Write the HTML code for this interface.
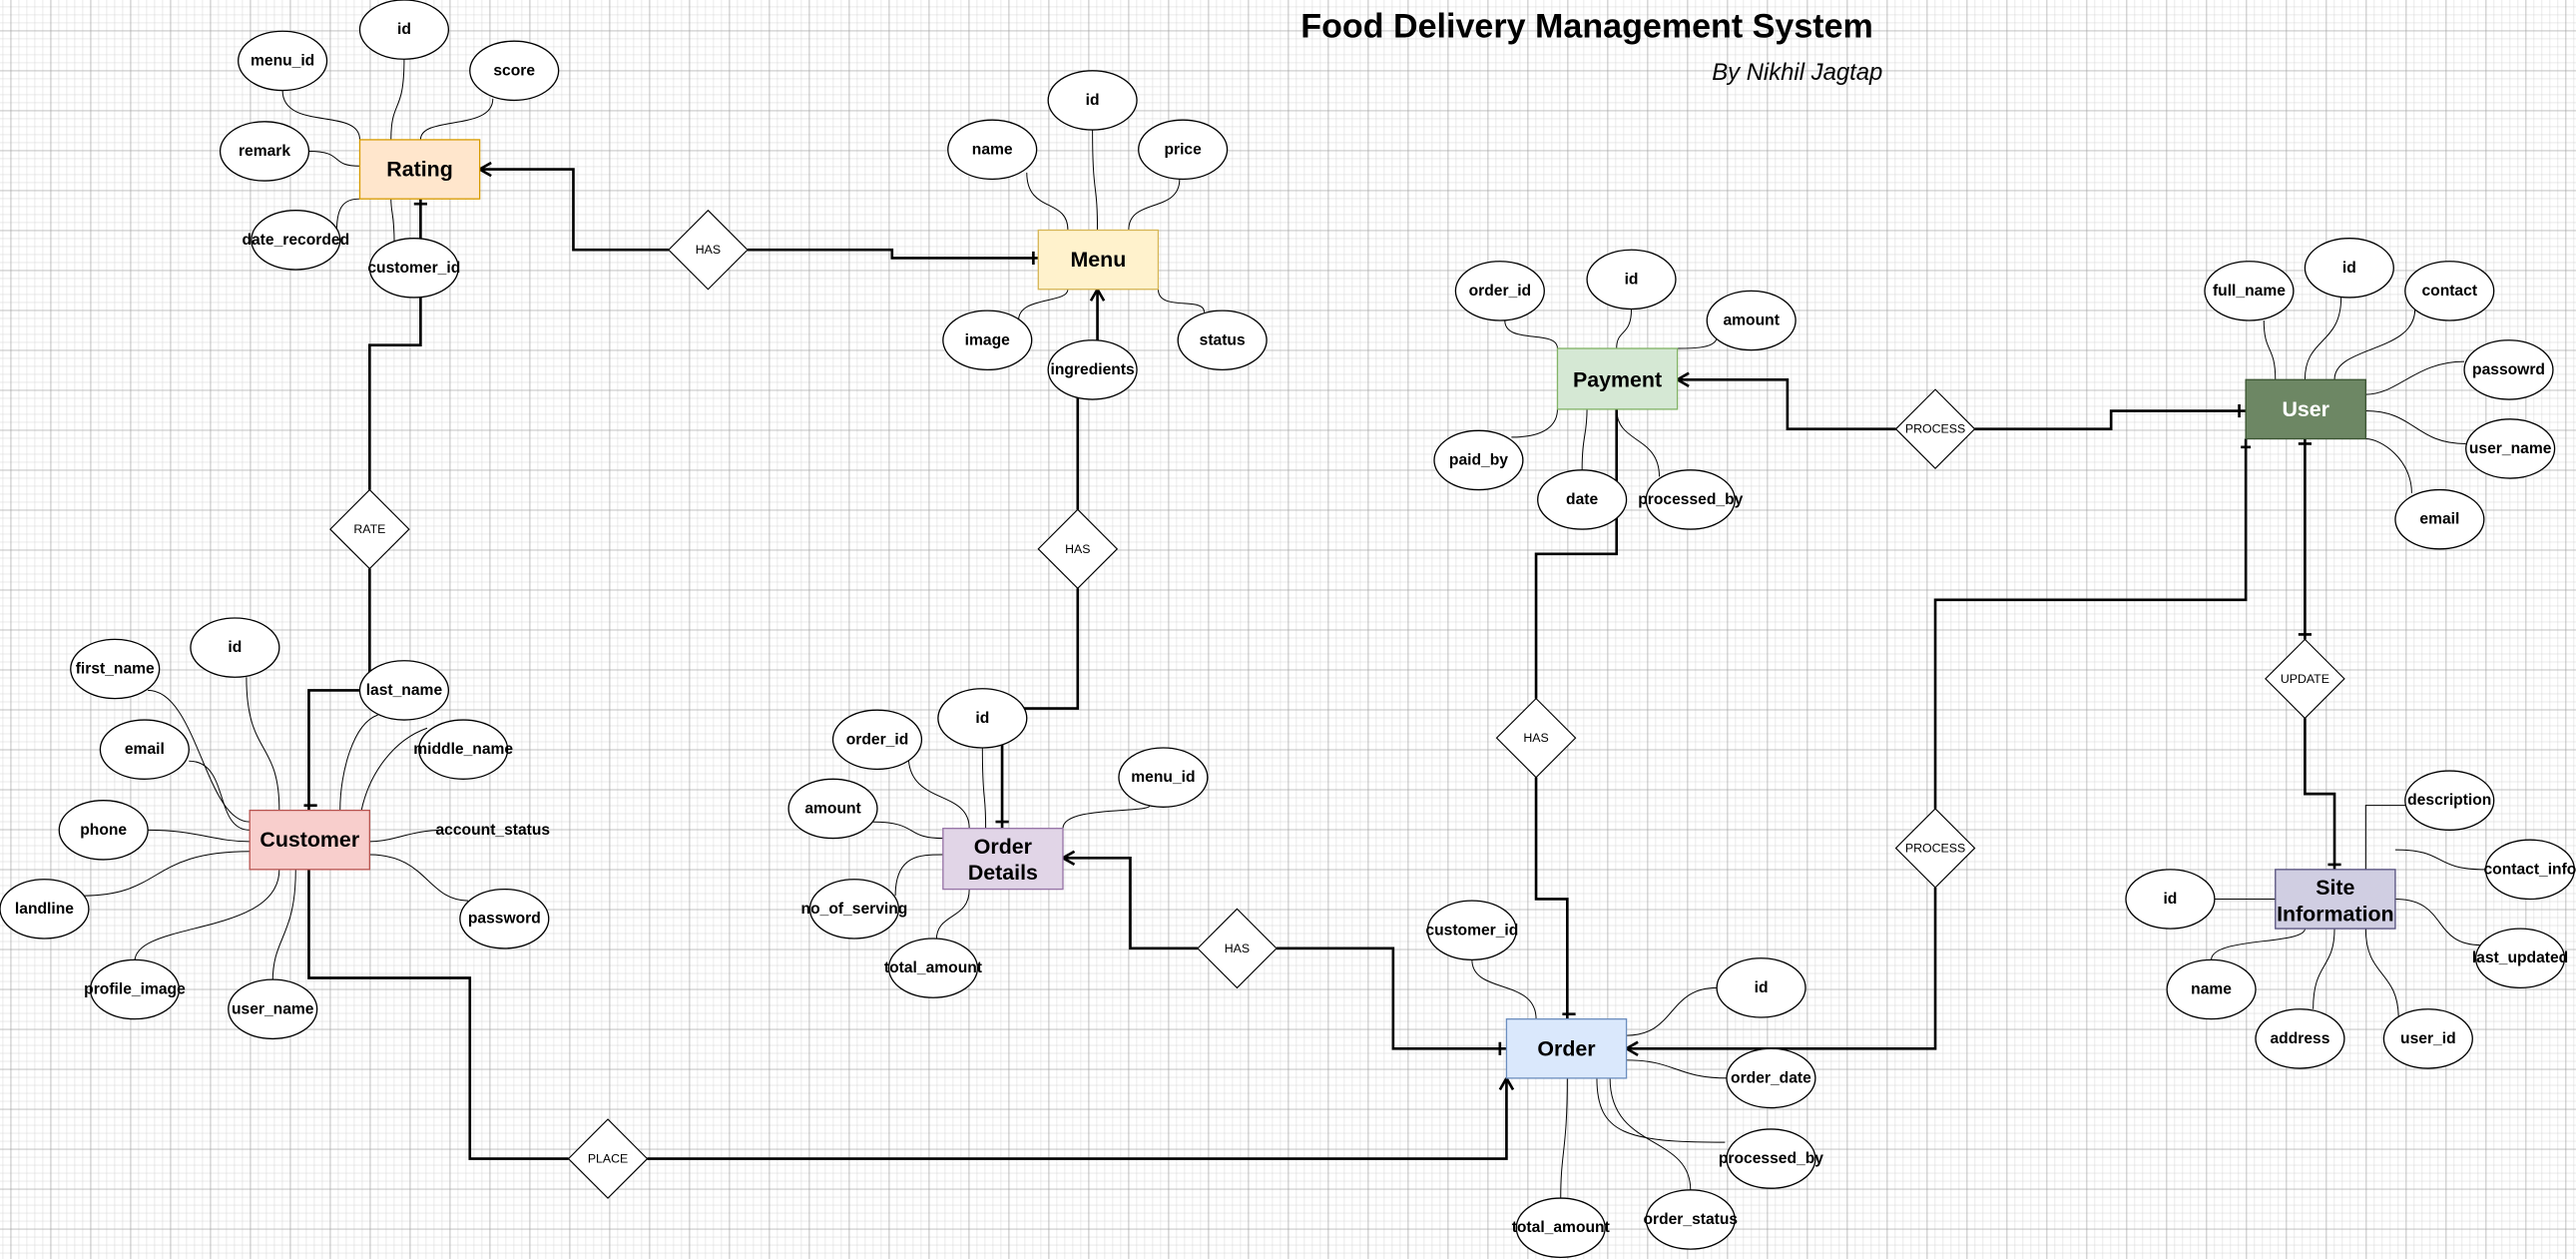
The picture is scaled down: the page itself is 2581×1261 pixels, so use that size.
<!DOCTYPE html>
<html><head><meta charset="utf-8"><style>
html,body{margin:0;padding:0;background:#fff;}
svg{display:block;}
text{font-family:"Liberation Sans",Arial,sans-serif;}
.a{fill:#fff;stroke:#000;stroke-width:0.8;}
.al{font-size:9.5px;font-weight:bold;text-anchor:middle;dominant-baseline:central;}
.t{fill:none;stroke:#000;stroke-width:0.6;}
.k{fill:none;stroke:#000;stroke-width:1.6;}
.d{fill:#fff;stroke:#000;stroke-width:0.7;}
.dl{font-size:7.5px;text-anchor:middle;dominant-baseline:central;}
.el{font-size:13px;font-weight:bold;text-anchor:middle;dominant-baseline:central;}
</style></head><body>
<svg width="2581" height="1261" viewBox="0 0 1568 766" preserveAspectRatio="none" xmlns="http://www.w3.org/2000/svg">
<defs>
<pattern id="mn" x="6.5" y="18.65" width="4.86" height="4.86" patternUnits="userSpaceOnUse">
<path d="M0 0H4.86M0 0V4.86" stroke="#d2d2d2" stroke-width="0.55" fill="none"/></pattern>
<pattern id="mj" x="6.5" y="18.65" width="24.3" height="24.3" patternUnits="userSpaceOnUse">
<path d="M0 0H24.3M0 0V24.3" stroke="#9a9a9a" stroke-width="0.65" fill="none"/></pattern>
</defs>
<rect width="1568" height="766" fill="#fff"/>
<rect width="1568" height="766" fill="url(#mn)"/>
<rect width="1568" height="766" fill="url(#mj)"/>

<text x="966" y="16" font-size="20.7" font-weight="bold" text-anchor="middle" dominant-baseline="central">Food Delivery Management System</text>
<text x="1094" y="44" font-size="14.5" font-style="italic" text-anchor="middle" dominant-baseline="central">By  Nikhil Jagtap</text>

<path class="k" d="M292 103H349V152H407M455 152H543V157H632"/>
<path class="k" d="M256 121V210H225V298M225 346V420H188V493"/>
<path class="k" d="M668 176V207M656 240V310M656 358V431H610V504"/>
<path class="k" d="M647 522H688V577H729M777 577H848V638H917"/>
<path class="k" d="M188 529V595H286V705H346M394 705H917V656"/>
<path class="k" d="M1021 231H1088V261H1154M1202 261H1285V250H1367"/>
<path class="k" d="M984 249V337H935V425M935 473V547H954V620"/>
<path class="k" d="M990 638H1178V540M1178 492V365H1367V267"/>
<path class="k" d="M1403 267V389M1403 437V483H1421V529"/>
<path class="k" d="M292 103l7 -4M292 103l7 4M632 157m-3 -4v8M668 176l-4 7M668 176l4 7M252 124h8M185 490h8M606 500h8M647 522l7 -4M647 522l7 4M917 638m-4 -4v8M917 656l-4 7M917 656l4 7M1021 231l7 -4M1021 231l7 4M1367 250m-4 -4v8M1364 272h6M1399 270h8M1399 386h8M1417 526h8M990 638l7 -4M990 638l7 4M951 617h8"/>

<g class="t">
<path d="M246 36C246 70 238 60 238 85"/><path d="M172 55C172 80 219 65 219 85"/><path d="M300 60C300 80 256 70 256 85"/><path d="M188 92C210 92 200 101 219 101"/><path d="M205 140C205 125 210 121 219 121"/><path d="M240 148C240 130 238 130 238 121"/>
<path d="M665 79C665 120 668 110 668 140"/><path d="M625 105C625 130 650 120 650 140"/><path d="M718 109C718 130 687 120 687 140"/><path d="M620 195C620 180 650 185 650 176"/><path d="M705 176C705 190 733 180 733 190"/>
<path d="M916 195C916 210 948 200 948 212"/><path d="M993 188C993 205 984 200 984 212"/><path d="M1045 205C1045 212 1030 212 1021 212"/><path d="M920 266C945 266 948 255 948 249"/><path d="M963 286C963 265 966 265 966 249"/><path d="M1010 290C1010 265 984 270 984 249"/>
<path d="M1378 195C1378 215 1385 210 1385 231"/><path d="M1425 181C1425 210 1403 205 1403 231"/><path d="M1470 188C1470 215 1421 210 1421 231"/><path d="M1500 220C1470 220 1460 240 1440 240"/><path d="M1501 270C1470 270 1470 250 1440 250"/><path d="M1468 300C1468 280 1450 267 1440 267"/>
<path d="M90 420C120 420 125 500 152 500"/><path d="M150 412C150 460 170 450 170 493"/><path d="M115 463C140 463 130 505 152 505"/><path d="M230 435C215 440 207 470 207 493"/><path d="M260 443C240 450 225 470 220 493"/><path d="M90 505C120 505 130 512 152 512"/><path d="M270 505C250 505 240 512 225 512"/><path d="M50 545C100 545 90 518 152 518"/><path d="M285 548C260 548 260 520 225 520"/><path d="M82 585C82 560 170 570 170 529"/><path d="M166 597C166 570 180 570 180 529"/>
<path d="M553 460C553 490 590 480 590 504"/><path d="M598 455C598 490 600 480 600 504"/><path d="M700 490C700 495 647 490 647 504"/><path d="M530 500C560 500 550 510 574 510"/><path d="M545 545C545 520 560 520 574 520"/><path d="M570 572C570 555 590 560 590 541"/>
<path d="M896 584C896 605 935 595 935 620"/><path d="M1045 601C1015 601 1020 630 990 630"/><path d="M1052 656C1020 656 1020 645 990 645"/><path d="M1050 695C990 695 972 690 972 656"/><path d="M1029 724C1029 690 980 700 980 656"/><path d="M950 729C950 700 954 700 954 656"/>
<path d="M1348 547H1385"/><path d="M1465 490H1440V529"/><path d="M1513 529C1480 529 1490 517 1458 517"/><path d="M1510 575C1480 575 1490 547 1458 547"/><path d="M1346 584C1346 570 1403 575 1403 565"/><path d="M1408 614C1408 585 1421 590 1421 565"/><path d="M1460 620C1460 590 1440 595 1440 565"/>
</g>

<g>
<path class="d" d="M431 128L455 152L431 176L407 152Z"/><text class="dl" x="431" y="152">HAS</text>
<path class="d" d="M225 298L249 322L225 346L201 322Z"/><text class="dl" x="225" y="322">RATE</text>
<path class="d" d="M656 310L680 334L656 358L632 334Z"/><text class="dl" x="656" y="334">HAS</text>
<path class="d" d="M935 425L959 449L935 473L911 449Z"/><text class="dl" x="935" y="449">HAS</text>
<path class="d" d="M1178 237L1202 261L1178 285L1154 261Z"/><text class="dl" x="1178" y="261">PROCESS</text>
<path class="d" d="M1403 389L1427 413L1403 437L1379 413Z"/><text class="dl" x="1403" y="413">UPDATE</text>
<path class="d" d="M1178 492L1202 516L1178 540L1154 516Z"/><text class="dl" x="1178" y="516">PROCESS</text>
<path class="d" d="M753 553L777 577L753 601L729 577Z"/><text class="dl" x="753" y="577">HAS</text>
<path class="d" d="M370 681L394 705L370 729L346 705Z"/><text class="dl" x="370" y="705">PLACE</text>
</g>

<g>
<ellipse class="a" cx="246" cy="18" rx="27" ry="18"/><text class="al" x="246" y="18">id</text>
<ellipse class="a" cx="172" cy="37" rx="27" ry="18"/><text class="al" x="172" y="37">menu_id</text>
<ellipse class="a" cx="313" cy="43" rx="27" ry="18"/><text class="al" x="313" y="43">score</text>
<ellipse class="a" cx="161" cy="92" rx="27" ry="18"/><text class="al" x="161" y="92">remark</text>
<ellipse class="a" cx="180" cy="146" rx="27" ry="18"/><text class="al" x="180" y="146">date_recorded</text>
<ellipse class="a" cx="252" cy="163" rx="27" ry="18"/><text class="al" x="252" y="163">customer_id</text>

<ellipse class="a" cx="665" cy="61" rx="27" ry="18"/><text class="al" x="665" y="61">id</text>
<ellipse class="a" cx="604" cy="91" rx="27" ry="18"/><text class="al" x="604" y="91">name</text>
<ellipse class="a" cx="720" cy="91" rx="27" ry="18"/><text class="al" x="720" y="91">price</text>
<ellipse class="a" cx="601" cy="207" rx="27" ry="18"/><text class="al" x="601" y="207">image</text>
<ellipse class="a" cx="665" cy="225" rx="27" ry="18"/><text class="al" x="665" y="225">ingredients</text>
<ellipse class="a" cx="744" cy="207" rx="27" ry="18"/><text class="al" x="744" y="207">status</text>

<ellipse class="a" cx="913" cy="177" rx="27" ry="18"/><text class="al" x="913" y="177">order_id</text>
<ellipse class="a" cx="993" cy="170" rx="27" ry="18"/><text class="al" x="993" y="170">id</text>
<ellipse class="a" cx="1066" cy="195" rx="27" ry="18"/><text class="al" x="1066" y="195">amount</text>
<ellipse class="a" cx="900" cy="280" rx="27" ry="18"/><text class="al" x="900" y="280">paid_by</text>
<ellipse class="a" cx="963" cy="304" rx="27" ry="18"/><text class="al" x="963" y="304">date</text>
<ellipse class="a" cx="1029" cy="304" rx="27" ry="18"/><text class="al" x="1029" y="304">processed_by</text>

<ellipse class="a" cx="1369" cy="177" rx="27" ry="18"/><text class="al" x="1369" y="177">full_name</text>
<ellipse class="a" cx="1430" cy="163" rx="27" ry="18"/><text class="al" x="1430" y="163">id</text>
<ellipse class="a" cx="1491" cy="177" rx="27" ry="18"/><text class="al" x="1491" y="177">contact</text>
<ellipse class="a" cx="1527" cy="225" rx="27" ry="18"/><text class="al" x="1527" y="225">passowrd</text>
<ellipse class="a" cx="1528" cy="273" rx="27" ry="18"/><text class="al" x="1528" y="273">user_name</text>
<ellipse class="a" cx="1485" cy="316" rx="27" ry="18"/><text class="al" x="1485" y="316">email</text>

<ellipse class="a" cx="70" cy="407" rx="27" ry="18"/><text class="al" x="70" y="407">first_name</text>
<ellipse class="a" cx="143" cy="394" rx="27" ry="18"/><text class="al" x="143" y="394">id</text>
<ellipse class="a" cx="88" cy="456" rx="27" ry="18"/><text class="al" x="88" y="456">email</text>
<ellipse class="a" cx="246" cy="420" rx="27" ry="18"/><text class="al" x="246" y="420">last_name</text>
<ellipse class="a" cx="282" cy="456" rx="27" ry="18"/><text class="al" x="282" y="456">middle_name</text>
<ellipse class="a" cx="63" cy="505" rx="27" ry="18"/><text class="al" x="63" y="505">phone</text>
<text class="al" x="300" y="505">account_status</text>
<ellipse class="a" cx="27" cy="553" rx="27" ry="18"/><text class="al" x="27" y="553">landline</text>
<ellipse class="a" cx="307" cy="559" rx="27" ry="18"/><text class="al" x="307" y="559">password</text>
<ellipse class="a" cx="82" cy="602" rx="27" ry="18"/><text class="al" x="82" y="602">profile_image</text>
<ellipse class="a" cx="166" cy="614" rx="27" ry="18"/><text class="al" x="166" y="614">user_name</text>

<ellipse class="a" cx="534" cy="450" rx="27" ry="18"/><text class="al" x="534" y="450">order_id</text>
<ellipse class="a" cx="598" cy="437" rx="27" ry="18"/><text class="al" x="598" y="437">id</text>
<ellipse class="a" cx="708" cy="473" rx="27" ry="18"/><text class="al" x="708" y="473">menu_id</text>
<ellipse class="a" cx="507" cy="492" rx="27" ry="18"/><text class="al" x="507" y="492">amount</text>
<ellipse class="a" cx="520" cy="553" rx="27" ry="18"/><text class="al" x="520" y="553">no_of_serving</text>
<ellipse class="a" cx="568" cy="589" rx="27" ry="18"/><text class="al" x="568" y="589">total_amount</text>

<ellipse class="a" cx="896" cy="566" rx="27" ry="18"/><text class="al" x="896" y="566">customer_id</text>
<ellipse class="a" cx="1072" cy="601" rx="27" ry="18"/><text class="al" x="1072" y="601">id</text>
<ellipse class="a" cx="1078" cy="656" rx="27" ry="18"/><text class="al" x="1078" y="656">order_date</text>
<ellipse class="a" cx="1078" cy="705" rx="27" ry="18"/><text class="al" x="1078" y="705">processed_by</text>
<ellipse class="a" cx="1029" cy="742" rx="27" ry="18"/><text class="al" x="1029" y="742">order_status</text>
<ellipse class="a" cx="950" cy="747" rx="27" ry="18"/><text class="al" x="950" y="747">total_amount</text>

<ellipse class="a" cx="1321" cy="547" rx="27" ry="18"/><text class="al" x="1321" y="547">id</text>
<ellipse class="a" cx="1491" cy="487" rx="27" ry="18"/><text class="al" x="1491" y="487">description</text>
<ellipse class="a" cx="1540" cy="529" rx="27" ry="18"/><text class="al" x="1540" y="529">contact_info</text>
<ellipse class="a" cx="1534" cy="583" rx="27" ry="18"/><text class="al" x="1534" y="583">last_updated</text>
<ellipse class="a" cx="1346" cy="602" rx="27" ry="18"/><text class="al" x="1346" y="602">name</text>
<ellipse class="a" cx="1400" cy="632" rx="27" ry="18"/><text class="al" x="1400" y="632">address</text>
<ellipse class="a" cx="1478" cy="632" rx="27" ry="18"/><text class="al" x="1478" y="632">user_id</text>
</g>

<g stroke-width="0.8">
<rect x="219" y="85" width="73" height="36" fill="#ffe6cc" stroke="#d79b00"/><text class="el" x="255.5" y="103">Rating</text>
<rect x="632" y="140" width="73" height="36" fill="#fff2cc" stroke="#d6b656"/><text class="el" x="668.5" y="158">Menu</text>
<rect x="948" y="212" width="73" height="37" fill="#d5e8d4" stroke="#82b366"/><text class="el" x="984.5" y="231">Payment</text>
<rect x="1367" y="231" width="73" height="36" fill="#6d8764" stroke="#3a5431"/><text class="el" x="1403.5" y="249" fill="#fff">User</text>
<rect x="152" y="493" width="73" height="36" fill="#f8cecc" stroke="#b85450"/><text class="el" x="188.5" y="511">Customer</text>
<rect x="574" y="504" width="73" height="37" fill="#e1d5e7" stroke="#9673a6"/><text class="el" x="610.5" y="515">Order</text><text class="el" x="610.5" y="531">Details</text>
<rect x="917" y="620" width="73" height="36" fill="#dae8fc" stroke="#6c8ebf"/><text class="el" x="953.5" y="638">Order</text>
<rect x="1385" y="529" width="73" height="36" fill="#d0cee2" stroke="#56517e"/><text class="el" x="1421.5" y="540">Site</text><text class="el" x="1421.5" y="556">Information</text>
</g>
</svg>
</body></html>
